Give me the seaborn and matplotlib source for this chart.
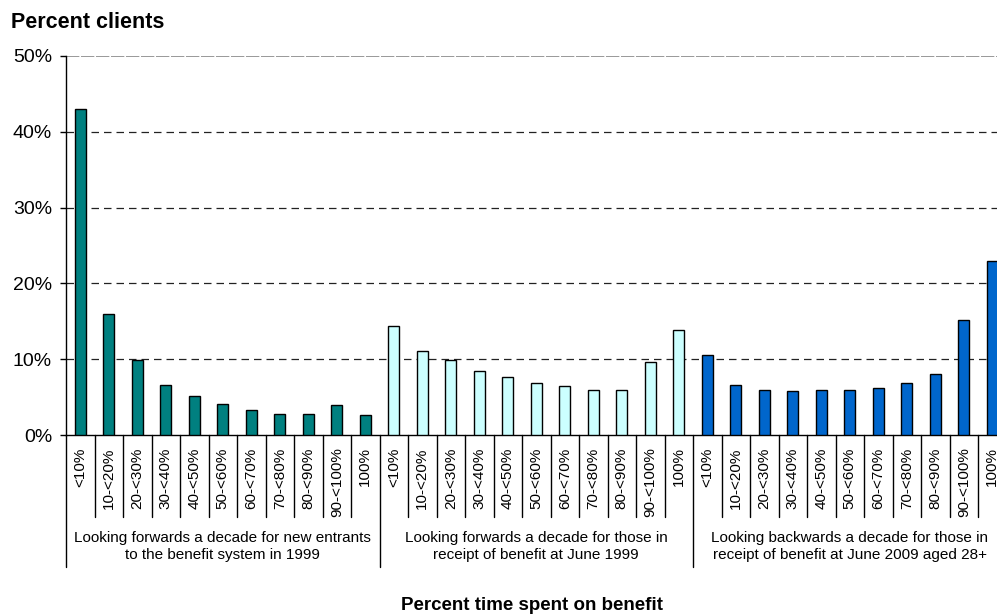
import pandas as pd
import matplotlib
matplotlib.use("Agg")
import matplotlib.pyplot as plt
import matplotlib.transforms as mtransforms
import seaborn as sns

# ===========================
# Data
# ===========================
categories = ['<10%', '10-<20%', '20-<30%', '30-<40%', '40-<50%', '50-<60%',
              '60-<70%', '70-<80%', '80-<90%', '90-<100%', '100%']
groups = ['Looking forwards a decade for new entrants\nto the benefit system in 1999',
          'Looking forwards a decade for those in\nreceipt of benefit at June 1999',
          'Looking backwards a decade for those in\nreceipt of benefit at June 2009 aged 28+']
new_entrants_1999 = [43.0, 15.9, 9.9, 6.6, 5.1, 4.05, 3.3, 2.8, 2.75, 4.0, 2.7]
in_receipt_1999 = [14.4, 11.1, 9.9, 8.4, 7.6, 6.9, 6.4, 6.0, 6.0, 9.6, 13.9]
in_receipt_2009 = [10.6, 6.65, 6.0, 5.8, 5.9, 6.0, 6.25, 6.8, 8.0, 15.2, 23.0]
colors = ['#008080', '#CCFFFF', '#0066CC']

series = [new_entrants_1999, in_receipt_1999, in_receipt_2009]
rows = []
for g, vals in zip(groups, series):
    for c, v in zip(categories, vals):
        rows.append({'group': g, 'key': g + '|' + c, 'category': c, 'value': v})
df = pd.DataFrame(rows)

# ===========================
# Plot
# ===========================
sns.set_style("white", {'text.color': 'black', 'axes.labelcolor': 'black',
                        'xtick.color': 'black', 'ytick.color': 'black'})
plt.rcParams['font.family'] = ['Liberation Sans', 'DejaVu Sans']

fig = plt.figure(figsize=(9.97, 6.15), dpi=100)
W, H = 997, 615
left, top, bottom = 66, 56, 435
cat_w = 28.5
n = len(df)
ax = fig.add_axes([left / W, 1 - bottom / H, n * cat_w / W, (bottom - top) / H])

sns.barplot(data=df, x='key', y='value', hue='group', palette=colors,
            saturation=1, dodge=False, width=0.4, edgecolor='black',
            linewidth=1, legend=False, ax=ax, zorder=3)

ax.set_xlim(-0.5, n - 0.5)
ax.set_ylim(0, 50)
ax.set_yticks([0, 10, 20, 30, 40, 50])
ax.set_yticklabels([f'{t}%' for t in [0, 10, 20, 30, 40, 50]], fontsize=14)
ax.tick_params(axis='y', length=4, width=1, pad=6, left=True, color='black')
ax.set_xticks(range(n))
ax.set_xticklabels(df['category'], rotation=90, fontsize=11, va='top')
ax.tick_params(axis='x', length=0, pad=9)
ax.set_xlabel('')
ax.set_ylabel('')

for y in [10, 20, 30, 40]:
    ax.axhline(y, color='#222222', lw=0.9, ls=(0, (6, 4)), zorder=1)
ax.axhline(50, color='#888888', lw=1.2, ls=(0, (8, 1)), zorder=1)

for s in ['top', 'right']:
    ax.spines[s].set_visible(False)
for s in ['left', 'bottom']:
    ax.spines[s].set_color('black')
    ax.spines[s].set_linewidth(1)

# category separators below the axis
trans = mtransforms.blended_transform_factory(ax.transData, ax.transAxes)
short = -(517 - bottom) / (bottom - top)
long_ = -(567 - bottom) / (bottom - top)
k = len(categories)
for i in range(0, n):
    y_end = long_ if i % k == 0 else short
    ax.plot([i - 0.5, i - 0.5], [0, y_end], color='black', lw=1,
            transform=trans, clip_on=False)

# group labels
for j, g in enumerate(groups):
    ax.text(j * k + (k - 1) / 2, -(546.5 - bottom) / (bottom - top), g,
            transform=trans, ha='center', va='center', fontsize=11,
            linespacing=1.25)

fig.text(11 / W, 1 - 22 / H, 'Percent clients', fontsize=15.5,
         fontweight='bold', ha='left', va='center')
fig.text(532 / W, 1 - 606 / H, 'Percent time spent on benefit', fontsize=13.5,
         fontweight='bold', ha='center', va='center')

fig.savefig('out.png', dpi=100)
